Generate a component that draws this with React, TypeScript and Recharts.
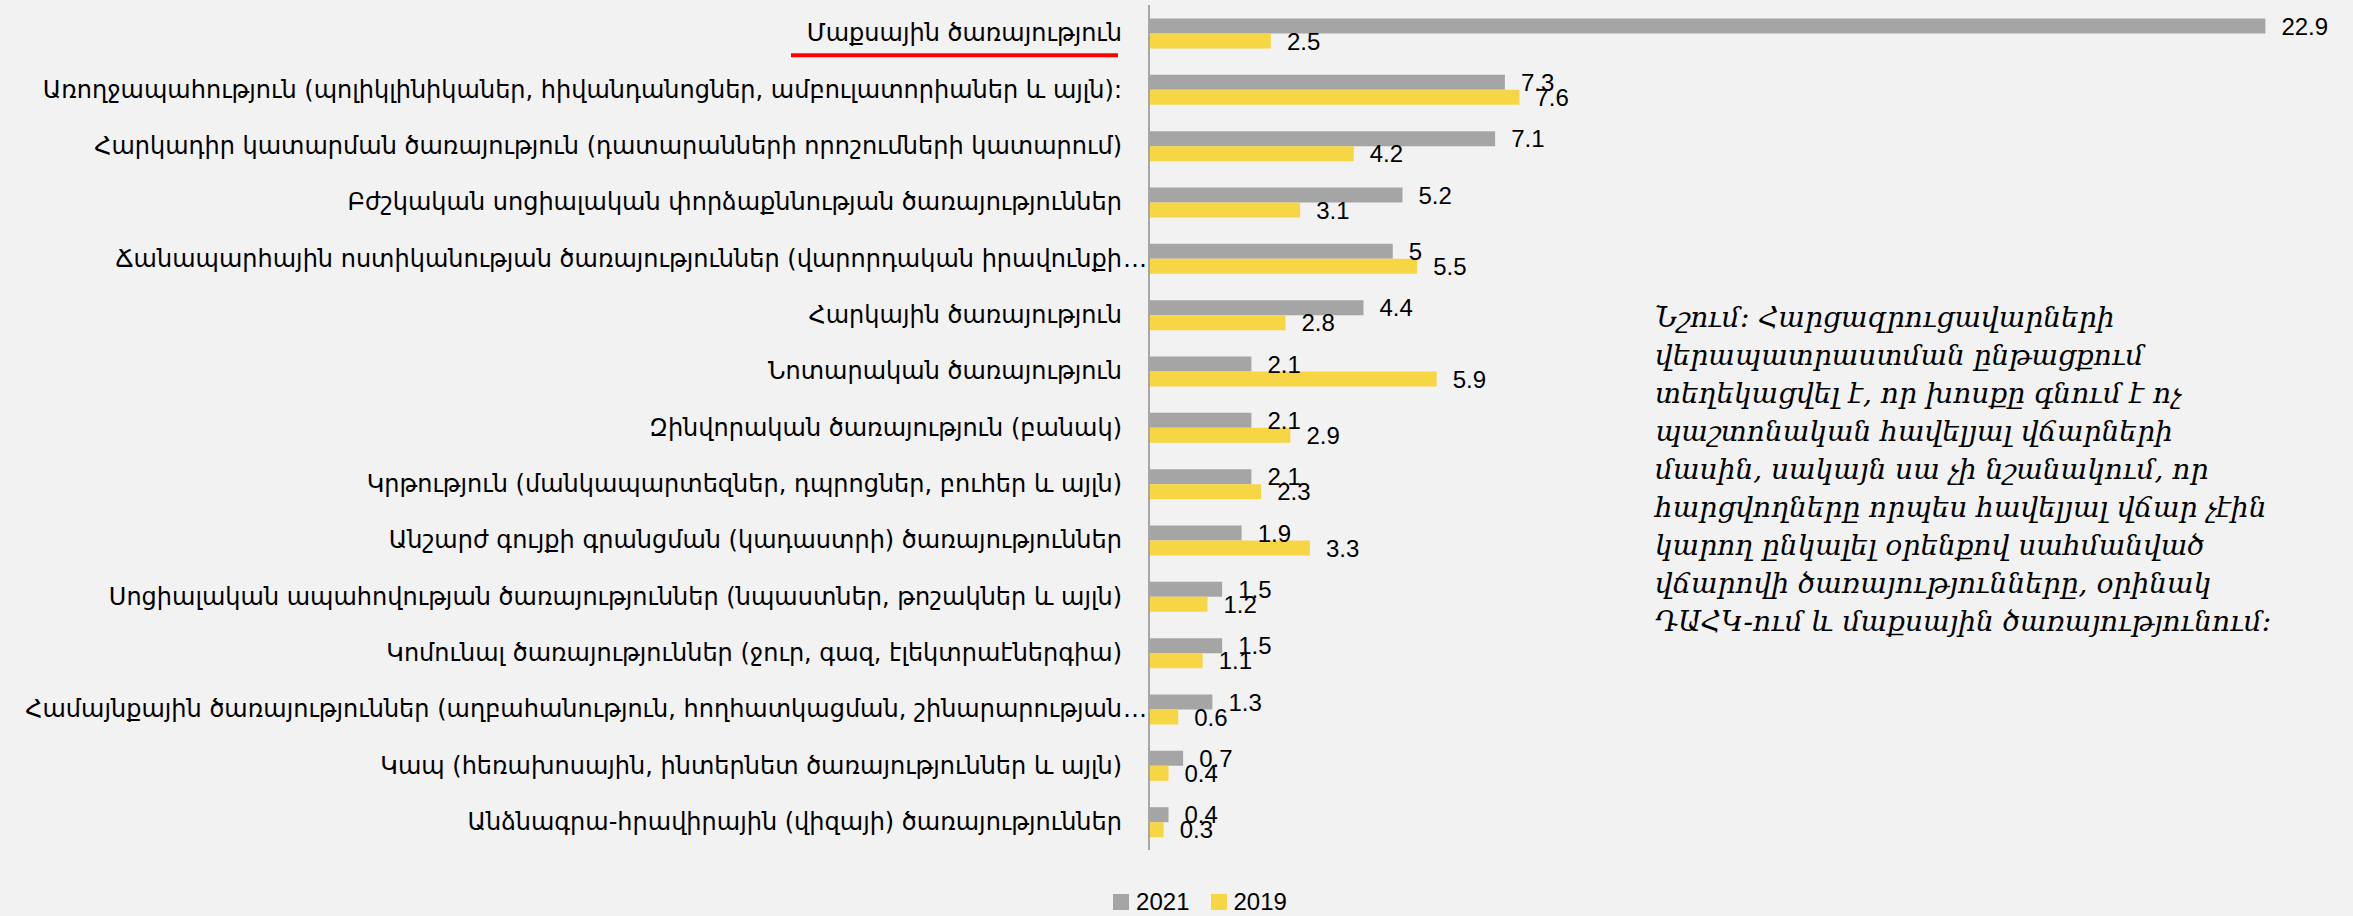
import React from "react";
import { BarChart, Bar, XAxis, YAxis, Legend, LabelList } from "recharts";

const categories: string[] = [
  "Մաքսային ծառայություն",
  "Առողջապահություն (պոլիկլինիկաներ, հիվանդանոցներ, ամբուլատորիաներ և այլն):",
  "Հարկադիր կատարման ծառայություն (դատարանների որոշումների կատարում)",
  "Բժշկական սոցիալական փորձաքննության ծառայություններ",
  "Ճանապարհային ոստիկանության ծառայություններ (վարորդական իրավունքի…",
  "Հարկային ծառայություն",
  "Նոտարական ծառայություն",
  "Զինվորական ծառայություն (բանակ)",
  "Կրթություն (մանկապարտեզներ, դպրոցներ, բուհեր և այլն)",
  "Անշարժ գույքի գրանցման (կադաստրի) ծառայություններ",
  "Սոցիալական ապահովության ծառայություններ (նպաստներ, թոշակներ և այլն)",
  "Կոմունալ ծառայություններ (ջուր, գազ, էլեկտրաէներգիա)",
  "Համայնքային ծառայություններ (աղբահանություն, հողհատկացման, շինարարության…",
  "Կապ (հեռախոսային, ինտերնետ ծառայություններ և այլն)",
  "Անձնագրա-հրավիրային (վիզայի) ծառայություններ",
];

const values2021: number[] = [22.9, 7.3, 7.1, 5.2, 5, 4.4, 2.1, 2.1, 2.1, 1.9, 1.5, 1.5, 1.3, 0.7, 0.4];
const values2019: number[] = [2.5, 7.6, 4.2, 3.1, 5.5, 2.8, 5.9, 2.9, 2.3, 3.3, 1.2, 1.1, 0.6, 0.4, 0.3];

const seriesNames: string[] = ["2021", "2019"];

const noteLines: string[] = [
  "Նշում: Հարցազրուցավարների",
  "վերապատրաստման ընթացքում",
  "տեղեկացվել է, որ խոսքը գնում է ոչ",
  "պաշտոնական հավելյալ վճարների",
  "մասին, սակայն սա չի նշանակում, որ",
  "հարցվողները որպես հավելյալ վճար չէին",
  "կարող ընկալել օրենքով սահմանված",
  "վճարովի ծառայությունները, օրինակ",
  "ԴԱՀԿ-ում և մաքսային ծառայությունում:",
];

const data = categories.map((name, i) => ({
  name,
  y2021: values2021[i],
  y2019: values2019[i],
}));

const GRAY = "#A5A5A5";
const YELLOW = "#F6D645";
const LABEL_FONT = "'DejaVu Sans', sans-serif";

const CategoryTick = (props: any) => {
  const { x, y, payload, index } = props;
  const label: string = payload.value;
  const hasEllipsis = label.endsWith("…");
  const main = hasEllipsis ? label.slice(0, -1) : label;
  return (
    <g>
      <text
        x={x}
        y={y}
        textAnchor="end"
        dominantBaseline="central"
        fontFamily={LABEL_FONT}
        fontSize={24}
        fill="#000"
      >
        {main}
      </text>
      {hasEllipsis && (
        <text
          x={x + 1}
          y={y}
          textAnchor="start"
          dominantBaseline="central"
          fontFamily={LABEL_FONT}
          fontSize={24}
          fill="#000"
        >
          …
        </text>
      )}
      {index === 0 && (
        <line x1={791} x2={1118} y1={y + 22} y2={y + 22} stroke="#FF0000" strokeWidth={4} />
      )}
    </g>
  );
};

const LegendContent = () => (
  <div style={{ display: "flex", justifyContent: "center", alignItems: "center", fontFamily: "'Liberation Sans', Arial, sans-serif", fontSize: 24, color: "#000", paddingLeft: 47 }}>
    {seriesNames.map((n, i) => (
      <div key={n} style={{ display: "flex", alignItems: "center", marginRight: i === 0 ? 21 : 0 }}>
        <div style={{ width: 16, height: 16, background: i === 0 ? GRAY : YELLOW, marginRight: 7 }} />
        <span>{n}</span>
      </div>
    ))}
  </div>
);

export default function App() {
  return (
    <div style={{ position: "absolute", left: 0, top: 0, width: 2353, height: 916, background: "#F2F2F2", overflow: "hidden" }}>
      <BarChart
        width={2353}
        height={916}
        data={data}
        layout="vertical"
        margin={{ top: 5, right: 34, bottom: 38, left: 0 }}
        barCategoryGap="24%"
        barGap={0}
      >
        <XAxis type="number" domain={[0, 24]} hide />
        <YAxis
          type="category"
          dataKey="name"
          width={1149}
          axisLine={{ stroke: "#A6A6A6", strokeWidth: 2 }}
          tickLine={false}
          tickSize={0}
          tickMargin={27}
          tick={<CategoryTick />}
          interval={0}
        />
        <Legend
          verticalAlign="bottom"
          content={<LegendContent />}
          wrapperStyle={{ height: 28, left: 0, width: 2353, bottom: 0 }}
        />
        <Bar dataKey="y2021" name={seriesNames[0]} fill={GRAY} isAnimationActive={false}>
          <LabelList dataKey="y2021" position="right" offset={16} fontSize={24} fill="#000" fontFamily="'Liberation Sans', Arial, sans-serif" />
        </Bar>
        <Bar dataKey="y2019" name={seriesNames[1]} fill={YELLOW} isAnimationActive={false}>
          <LabelList dataKey="y2019" position="right" offset={16} fontSize={24} fill="#000" fontFamily="'Liberation Sans', Arial, sans-serif" />
        </Bar>
      </BarChart>
      <div
        style={{
          position: "absolute",
          left: 1655,
          top: 299,
          fontFamily: "'DejaVu Serif', serif",
          fontStyle: "italic",
          fontSize: 28,
          lineHeight: "38px",
          color: "#000",
          whiteSpace: "nowrap",
        }}
      >
        {noteLines.map((l, i) => (
          <div key={i}>{l}</div>
        ))}
      </div>
    </div>
  );
}
